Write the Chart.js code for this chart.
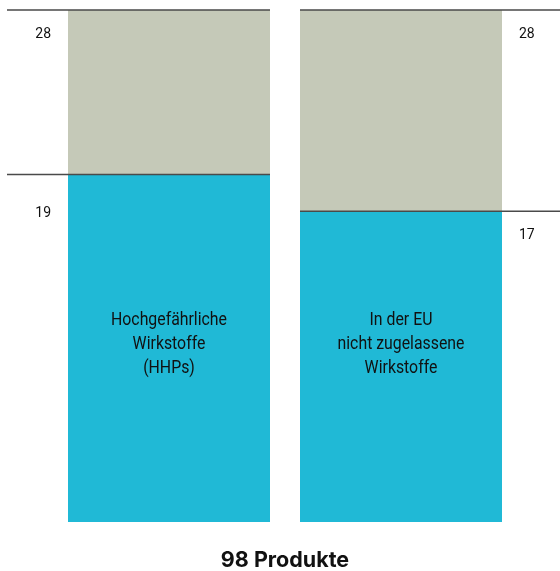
<!DOCTYPE html>
<html>
<head>
<meta charset="utf-8">
<script src="https://cdn.jsdelivr.net/npm/chart.js@4.4.1/dist/chart.umd.min.js"></script>
<style>
  body { margin: 0; background: #fff; }
</style>
</head>
<body>
<canvas id="my-chart" width="560" height="571"></canvas>
<script>
const categories = ['HHPs', 'EU'];
const totalValues = [28, 28];
const highlightValues = [19, 17];
const barTexts = [
   ['Hochgefährliche', 'Wirkstoffe', '(HHPs)'],
   ['In der EU', 'nicht zugelassene', 'Wirkstoffe']
];
const axisTitle = '98 Produkte';

// rest of each bar (grey part) = total - highlighted
const restValues = totalValues.map((t, i) => t - highlightValues[i]);

const LINE_COLOR = '#4a4a4a';

const markerPlugin = {
   id: 'markers',
   afterDatasetsDraw(chart) {
      const ctx = chart.ctx;
      const y = chart.scales.y;
      const bars = chart.getDatasetMeta(0).data;
      const W = chart.width;

      ctx.save();
      ctx.strokeStyle = LINE_COLOR;
      ctx.lineWidth = 1.5;
      ctx.fillStyle = '#111';
      ctx.textBaseline = 'middle';

      bars.forEach((bar, i) => {
         const left = bar.x - bar.width / 2;
         const right = bar.x + bar.width / 2;
         const x0 = i === 0 ? 7 : left;
         const x1 = i === 0 ? right : W;
         const yTop = y.getPixelForValue(totalValues[i]);
         const yMid = y.getPixelForValue(highlightValues[i]);

         ctx.beginPath();
         ctx.moveTo(x0, yTop); ctx.lineTo(x1, yTop);
         ctx.moveTo(x0, yMid); ctx.lineTo(x1, yMid);
         ctx.stroke();

         ctx.font = '14px Roboto, sans-serif';
         let tx, gap;
         if (i === 0) { ctx.textAlign = 'right'; tx = left - 17; gap = 39; }
         else { ctx.textAlign = 'left'; tx = right + 17; gap = 24; }
         ctx.fillText(String(totalValues[i]), tx, yTop + 24);
         ctx.fillText(String(highlightValues[i]), tx, yMid + gap);

         // text inside blue part, a bit condensed
         ctx.textAlign = 'center';
         ctx.font = '18px Roboto, sans-serif';
         const cy = y.getPixelForValue(9.69);
         const lines = barTexts[i];
         ctx.save();
         ctx.translate(bar.x, 0);
         ctx.scale(0.88, 1);
         lines.forEach((t, k) => {
            ctx.fillText(t, 0, cy + (k - (lines.length - 1) / 2) * 24);
         });
         ctx.restore();
      });
      ctx.restore();
   }
};

const ctx = document.getElementById('my-chart').getContext('2d');

const chart = new Chart(ctx, {
   type: 'bar',
   data: {
      labels: categories,
      datasets: [
         {
            label: 'Wirkstoffe',
            data: highlightValues,
            backgroundColor: '#20b9d6',
            borderWidth: 0,
            barPercentage: 1,
            categoryPercentage: 202 / 232
         },
         {
            label: 'Rest',
            data: restValues,
            backgroundColor: '#c5c9b8',
            borderWidth: 0,
            barPercentage: 1,
            categoryPercentage: 202 / 232
         }
      ]
   },
   options: {
      responsive: false,
      animation: false,
      layout: { padding: { left: 53, right: 43, top: 10, bottom: 0 } },
      plugins: {
         legend: { display: false },
         tooltip: { enabled: false }
      },
      scales: {
         x: {
            stacked: true,
            grid: { display: false, drawTicks: false },
            border: { display: false },
            ticks: { display: false },
            title: {
               display: true,
               text: axisTitle,
               color: '#111',
               font: { family: 'Inter, Roboto, sans-serif', size: 21.5, weight: 'bold', lineHeight: 20 / 21.5 },
               padding: { top: 29, bottom: 0 }
            }
         },
         y: {
            stacked: true,
            display: false,
            min: 0,
            max: 28
         }
      }
   },
   plugins: [markerPlugin]
});
</script>
</body>
</html>
